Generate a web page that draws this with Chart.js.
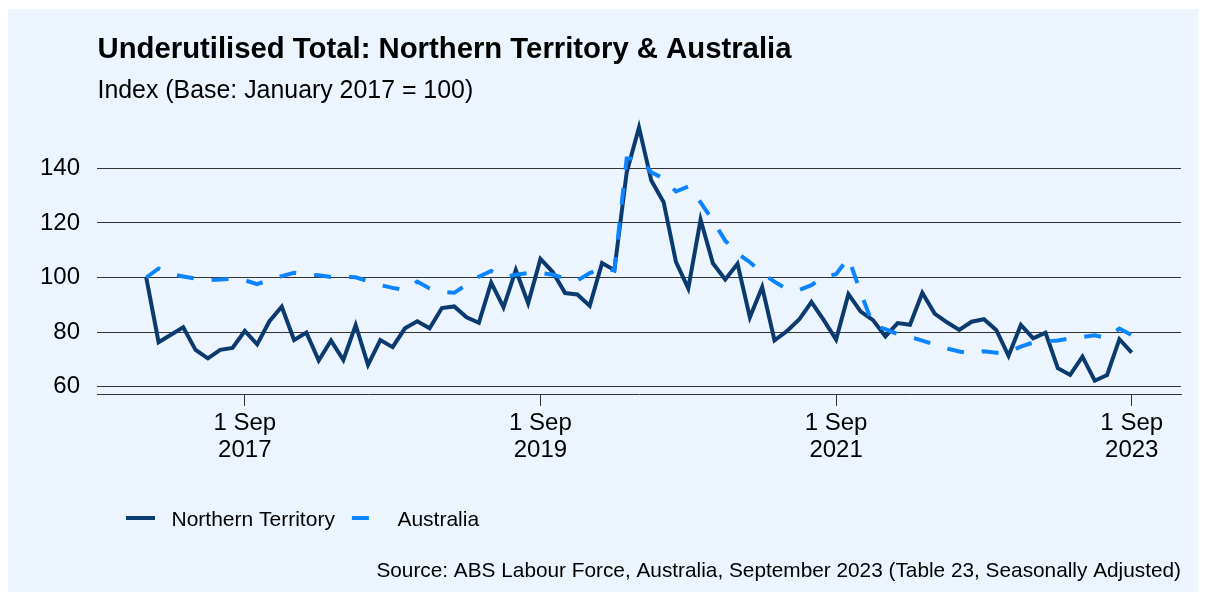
<!DOCTYPE html>
<html><head><meta charset="utf-8">
<script src="https://cdn.jsdelivr.net/npm/chart.js@4.4.1/dist/chart.umd.min.js"></script>
<style>
html,body{margin:0;padding:0;background:#fff;width:1206px;height:601px;overflow:hidden}
#panel{position:absolute;left:8px;top:9px;width:1190px;height:583px;background:#ECF4FE}
canvas{display:block}
</style></head><body>
<div id="panel"><canvas id="c" width="1190" height="583"></canvas></div>
<script>
const FONT = '"Liberation Sans", Arial, Helvetica, sans-serif';
const TITLE = 'Underutilised Total: Northern Territory & Australia';
const SUBTITLE = 'Index (Base: January 2017 = 100)';
const SOURCE = 'Source: ABS Labour Force, Australia, September 2023 (Table 23, Seasonally Adjusted)';
const seriesNames = ['Northern Territory', 'Australia'];

// Monthly categories, Jan 2017 .. Sep 2023
const monthNames = ['Jan','Feb','Mar','Apr','May','Jun','Jul','Aug','Sep','Oct','Nov','Dec'];
const months = [];
for (let y = 2017; y <= 2023; y++) for (let m = 0; m < 12; m++) { if (y === 2023 && m > 8) break; months.push(monthNames[m] + ' ' + y); }

const ntValues = [
  100,76.3,79,81.8,73.5,70.4,73.5,74.2,80.4,75.5,84,89.3,
  77.1,79.8,69.6,76.9,69.8,82.6,68,77.1,74.5,81.4,84,81.4,
  88.8,89.4,85.4,83.4,98.1,89.1,102.7,90.6,106.8,102,94.3,93.8,
  89.6,105.3,102.7,138.5,155,135.5,127.6,105.7,96,121.2,105.2,99.3,
  105,85.4,96.5,77,80.3,84.6,91,84.4,77.3,93.9,87.5,84.4,
  78.4,83.3,82.7,94.4,86.8,83.6,80.8,83.8,84.7,80.8,71.3,82.6,
  77.7,79.8,66.8,64.3,71,62.2,64.3,77.4,72.5
];
const ausValues = [
  100,103.3,101.2,100.4,99.6,99.0,99.3,99.5,99.0,97.6,99.1,100.5,
  101.7,101.2,100.8,100.2,100.3,100.1,98.6,97.2,96.2,95.4,98.5,96.0,
  94.7,94.4,97.4,100.3,102.4,100.2,101.0,101.6,101.7,101.0,99.7,98.9,
  101.6,103.4,102.6,143.6,143.6,138.5,136.3,131.5,133.3,127.5,120.9,113.5,
  108.8,105.6,101.6,98.5,95.7,95.4,97.2,100.3,101.2,107.2,94.5,82.5,
  81.1,79.3,78.2,76.9,75.4,74,72.9,72.2,73,72.4,72.6,74.7,
  76.2,76.6,76.9,77.7,78.2,78.8,77.8,81.3,78.9
];

const xTickMonths = ['Sep 2017','Sep 2019','Sep 2021','Sep 2023'];
const xTickLabels = [['1 Sep','2017'],['1 Sep','2019'],['1 Sep','2021'],['1 Sep','2023']];
const yTicks = [60,80,100,120,140];

const NT_COLOR = '#0B3A6E';
const AUS_COLOR = '#0A84FF';

const xTickIdx = xTickMonths.map(m => months.indexOf(m));
const toPoints = vals => vals.map((v,i) => ({x: i, y: v}));

const textPlugin = {
  id: 'texts',
  afterDraw(chart) {
    const ctx = chart.ctx;
    ctx.save();
    ctx.fillStyle = '#000';
    ctx.textBaseline = 'alphabetic';
    ctx.textAlign = 'left';
    ctx.font = 'bold 29.3px ' + FONT;
    ctx.fillText(TITLE, 89.5, 48.8);
    ctx.font = '24.9px ' + FONT;
    ctx.fillText(SUBTITLE, 89.5, 88.5);
    ctx.font = '21px ' + FONT;
    let x = 118; const ly = 509;
    chart.data.datasets.forEach(ds => {
      ctx.save();
      ctx.strokeStyle = ds.borderColor; ctx.lineWidth = ds.borderWidth;
      ctx.setLineDash(ds.borderDash || []);
      ctx.beginPath(); ctx.moveTo(x, ly); ctx.lineTo(x + 29, ly); ctx.stroke();
      ctx.restore();
      ctx.fillText(ds.label, x + 45.5, 517);
      x = x + 45.5 + ctx.measureText(ds.label).width + 17;
    });
    ctx.font = '20.8px ' + FONT;
    ctx.textAlign = 'right';
    ctx.fillText(SOURCE, 1173, 567.7);
    ctx.restore();
  }
};

new Chart(document.getElementById('c'), {
  type: 'line',
  data: {
    labels: months,
    datasets: [
      { label: seriesNames[0], data: toPoints(ntValues), borderColor: NT_COLOR, borderWidth: 4, pointRadius: 0, tension: 0, fill: false, order: 1 },
      { label: seriesNames[1], data: toPoints(ausValues), borderColor: AUS_COLOR, borderWidth: 4, borderDash: [17,18], pointRadius: 0, tension: 0, fill: false, order: 0 }
    ]
  },
  options: {
    responsive: false,
    animation: false,
    events: [],
    layout: { padding: { top: 104.7, right: 17, bottom: 0, left: 0 } },
    plugins: { legend: { display: false }, title: { display: false }, tooltip: { enabled: false } },
    scales: {
      x: {
        type: 'linear', min: -4, max: 84,
        afterBuildTicks: s => { s.ticks = xTickIdx.map(v => ({ value: v })); },
        afterFit: s => { s.height = 198; },
        grid: { drawOnChartArea: false, drawTicks: true, tickLength: 12, color: '#333', lineWidth: 1 },
        border: { display: true, color: '#333', width: 1 },
        ticks: {
          autoSkip: false, maxRotation: 0, minRotation: 0, padding: 4.5, color: '#000',
          font: { size: 24, family: FONT, lineHeight: 1.1 },
          callback: v => { const k = xTickIdx.indexOf(v); return k >= 0 ? xTickLabels[k] : ''; }
        }
      },
      y: {
        min: 57.33, max: 160,
        afterBuildTicks: s => { s.ticks = yTicks.map(v => ({ value: v })); },
        afterFit: s => { s.width = 89; },
        grid: { drawTicks: false, color: '#333', lineWidth: 1 },
        border: { display: false },
        ticks: { padding: 17, color: '#000', font: { size: 24, family: FONT } }
      }
    }
  },
  plugins: [textPlugin]
});
</script>
</body></html>
